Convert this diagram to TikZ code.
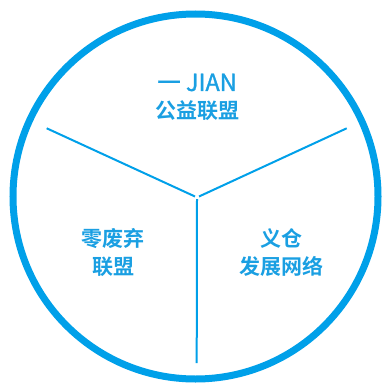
\documentclass[tikz,border=0pt]{standalone}
\usepackage{fontspec}
\usetikzlibrary{calc}
\newfontfamily\cjk[FakeBold=1.2]{Noto Sans CJK SC}
\newfontfamily\cjkb{Noto Sans CJK SC Bold}
\definecolor{ringblue}{HTML}{00A0E9}
\definecolor{txtblue}{HTML}{1A9FE2}
\begin{document}
\begin{tikzpicture}[x=1pt,y=-1pt,
  divider/.style={draw=ringblue,line width=2pt},
  lbl/.style={text=txtblue,font=\cjkb\fontsize{21}{28}\selectfont,align=center,inner sep=0pt}]
\useasboundingbox (0,0) rectangle (382,385);
\node[draw=ringblue,line width=7pt,circle,minimum size=365pt,inner sep=0pt] (ring) at (195.5,196.5) {};
\coordinate (c) at (197,197);
\coordinate (l) at (46.7,128.3);
\coordinate (r) at (346.7,128.3);
\coordinate (b) at (196.7,363);
\draw[divider] (l) -- ($(c)+(-2,-0.5)$);
\draw[divider] (r) -- ($(c)+(2,-0.5)$);
\draw[divider] ($(c)+(0,2)$) -- (b);
\node[text=txtblue,font=\cjk\fontsize{23.5}{28}\selectfont,inner sep=0pt] (t1) at (197,82.5) {一 JIAN};
\node[lbl] (t2) at (197,111) {公益联盟};
\node[lbl] (left) at (113,252.5) {零废弃\\联盟};
\node[lbl] (right) at (281,252.5) {义仓\\发展网络};
\end{tikzpicture}
\end{document}
